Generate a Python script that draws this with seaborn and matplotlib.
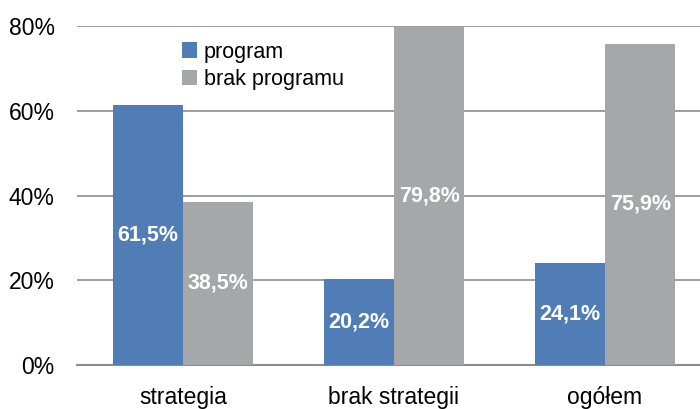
import matplotlib
matplotlib.use("Agg")
import matplotlib.pyplot as plt
import seaborn as sns
import pandas as pd

# Dane
kategorie = ["strategia", "brak strategii", "ogółem"]
program = [61.5, 20.2, 24.1]
brak_programu = [38.5, 79.8, 75.9]
serie = ["program", "brak programu"]
kolory = ["#507DB5", "#A6A7AB"]

df = pd.DataFrame({
    "kategoria": kategorie * 2,
    "seria": [serie[0]] * 3 + [serie[1]] * 3,
    "wartosc": program + brak_programu,
})

sns.set_style("white")
plt.rcParams["font.family"] = ["Liberation Sans", "DejaVu Sans"]
plt.rcParams["text.color"] = "black"
plt.rcParams["xtick.color"] = "black"
plt.rcParams["ytick.color"] = "black"

fig = plt.figure(figsize=(7, 4.09), dpi=100)
ax = fig.add_axes([0.11, 0.1076, 0.89, 0.8284])

sns.barplot(data=df, x="kategoria", y="wartosc", hue="seria", palette=kolory,
            width=0.667, saturation=1, linewidth=0, edgecolor="none", ax=ax, zorder=3)

# Etykiety wartości w środku słupków
for cont in ax.containers:
    etyk = [f"{v:.1f}%".replace(".", ",") for v in cont.datavalues]
    ax.bar_label(cont, labels=etyk, label_type="center", color="white",
                 fontsize=15.5, fontweight="bold")

ax.set_ylim(0, 80)
ax.set_xlim(-0.502, 2.45)
ax.set_yticks([0, 20, 40, 60, 80])
ax.set_yticklabels(["0%", "20%", "40%", "60%", "80%"], fontsize=16.5)
ax.tick_params(axis="x", labelsize=16.5, length=0, pad=15, labelcolor="black")
ax.tick_params(axis="y", length=0, pad=16, labelcolor="black")
ax.yaxis.grid(True, color="#8C8C8C", linewidth=1.2, zorder=0)
ax.set_xlabel("")
ax.set_ylabel("")
for s in ["left", "right", "top"]:
    ax.spines[s].set_visible(False)
ax.spines["bottom"].set_color("#8C8C8C")
ax.spines["bottom"].set_linewidth(1.5)

leg = ax.legend(loc="upper left", bbox_to_anchor=(0.155, 0.98), frameon=False,
                fontsize=15.5, handlelength=0.7, handleheight=0.7, handletextpad=0.3,
                labelspacing=0.3, borderaxespad=0)
for t in leg.get_texts():
    t.set_color("black")

fig.savefig("out.png", dpi=100)
